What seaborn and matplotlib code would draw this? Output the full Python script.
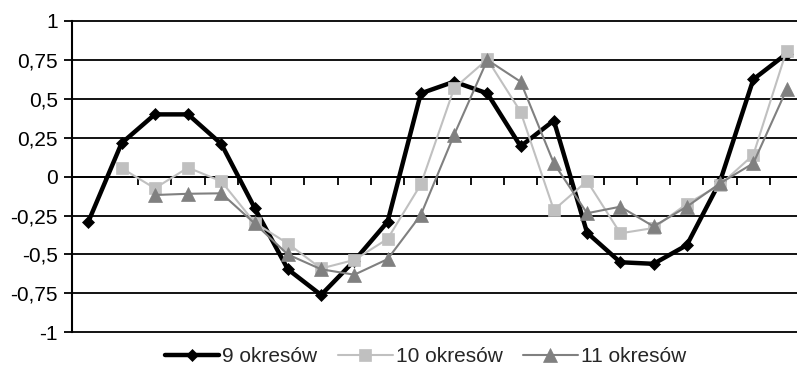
import numpy as np
import pandas as pd
import matplotlib
matplotlib.use("Agg")
import matplotlib.pyplot as plt
import seaborn as sns

nan = np.nan

# Period index along the category axis (no labels shown)
periods = list(range(1, 23))

# Series values
s9 = [-0.29, 0.215, 0.40, 0.40, 0.21, -0.20, -0.595, -0.76, -0.54, -0.29,
      0.535, 0.61, 0.535, 0.195, 0.36, -0.36, -0.55, -0.56, -0.44, -0.03,
      0.625, 0.79]
s10 = [nan, 0.055, -0.075, 0.058, -0.03, -0.295, -0.43, -0.59, -0.535, -0.40,
       -0.05, 0.567, 0.754, 0.417, -0.214, -0.028, -0.364, -0.33, -0.175, -0.053,
       0.14, 0.81]
s11 = [nan, nan, -0.118, -0.11, -0.107, -0.30, -0.50, -0.595, -0.63, -0.53,
       -0.246, 0.268, 0.75, 0.61, 0.086, -0.235, -0.193, -0.32, -0.193, -0.043,
       0.086, 0.56]

series_names = ["9 okresów", "10 okresów", "11 okresów"]

y_ticks = [1, 0.75, 0.5, 0.25, 0, -0.25, -0.5, -0.75, -1]
y_tick_labels = ["1", "0,75", "0,5", "0,25", "0", "-0,25", "-0,5", "-0,75", "-1"]

sns.set_style("white")
plt.rcParams["font.family"] = ["Liberation Sans", "DejaVu Sans"]
plt.rcParams["font.size"] = 15

W, H = 797, 367
fig = plt.figure(figsize=(W / 100, H / 100), dpi=100)
ax = fig.add_axes([71.7 / W, 1 - 332.3 / H, 731.5 / W, (332.3 - 21.0) / H])

styles = [
    dict(color="#000000", marker="D", markersize=6.5, linewidth=3.2, mec="#000000", mew=0.5),
    dict(color="#C0C0C0", marker="s", markersize=8.5, linewidth=1.5, mec="#C0C0C0", mew=0.5),
    dict(color="#808080", marker="^", markersize=10, linewidth=1.5, mec="#808080", mew=0.5),
]

for name, vals, st in zip(series_names, [s9, s10, s11], styles):
    df = pd.DataFrame({"okres": periods, "wartosc": vals}).dropna()
    sns.lineplot(data=df, x="okres", y="wartosc", ax=ax, label=name,
                 estimator=None, errorbar=None, sort=False,
                 color=st["color"], marker=st["marker"], markersize=st["markersize"],
                 linewidth=st["linewidth"], markeredgecolor=st["mec"],
                 markeredgewidth=st["mew"], zorder=3)

ax.set_xlim(0.5, 22.5)
ax.set_ylim(-1, 1)
ax.set_xlabel("")
ax.set_ylabel("")

# Horizontal gridlines
ax.set_yticks(y_ticks)
ax.set_yticklabels(y_tick_labels)
ax.yaxis.grid(True, color="black", linewidth=1.3)
ax.set_axisbelow(True)
for gl in ax.get_ygridlines():
    gl.set_clip_on(False)

# Category axis crossing at zero, ticks between categories
ax.spines["bottom"].set_position(("data", 0))
ax.spines["bottom"].set_linewidth(1.3)
ax.spines["top"].set_visible(False)
ax.spines["right"].set_visible(False)
ax.spines["left"].set_linewidth(1.5)
ax.spines["left"].set_color("black")
ax.spines["bottom"].set_color("black")
ax.set_xticks([p + 0.5 for p in periods[:-1]])
ax.set_xticklabels([])
ax.tick_params(axis="x", direction="out", length=5.5, width=1.3, color="black", bottom=True)
ax.tick_params(axis="y", direction="out", length=6, width=1.3, color="black", left=True,
               pad=4, labelsize=15, labelcolor="black")

# Legend along the bottom
handles, labels = ax.get_legend_handles_labels()
ax.legend(handles, labels, loc="center", bbox_to_anchor=(425.5 / W, 1 - 357 / H),
          bbox_transform=fig.transFigure, ncol=3, frameon=False, fontsize=15,
          handlelength=2.6, handletextpad=0.15, columnspacing=1.0, borderpad=0)

fig.savefig("out.png", dpi=100)
